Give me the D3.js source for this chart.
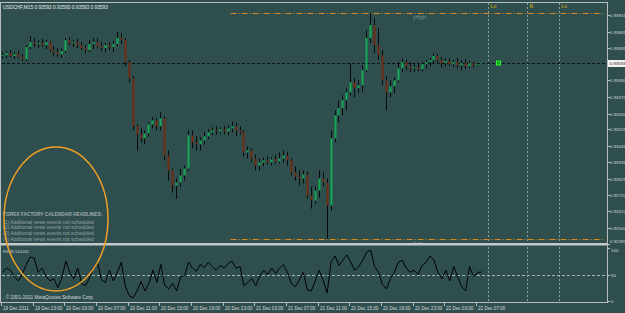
<!DOCTYPE html>
<html><head><meta charset="utf-8">
<script src="https://cdn.jsdelivr.net/npm/d3@7"></script>
<style>
html,body{margin:0;padding:0;background:#2f4f4f;overflow:hidden;}
svg{display:block;}
text{font-family:"Liberation Sans",Arial,sans-serif;}
</style></head><body>
<svg id="c" width="625" height="313"></svg>
<script>
const title = "USDCHF,M15  0.93593 0.93593 0.93593 0.93593";
const startTime = "2011-12-19T19:00:00Z";
const barMinutes = 30;
const opens = [0.93642,0.93648,0.93662,0.93642,0.93655,0.93635,0.93622,0.93702,0.93735,0.93722,
0.93728,0.93715,0.93735,0.93682,0.93668,0.93655,0.93675,0.93748,0.93728,0.93735,
0.93715,0.93695,0.93682,0.93722,0.93735,0.93708,0.93695,0.93715,0.93702,0.93722,
0.93762,0.93748,0.93602,0.93495,0.93175,0.93121,0.93095,0.93128,0.93188,0.93215,
0.93175,0.93228,0.92981,0.92881,0.92781,0.92801,0.92848,0.92894,0.93115,0.93068,
0.93055,0.93081,0.93108,0.93135,0.93148,0.93141,0.93155,0.93141,0.93161,0.93175,
0.93148,0.93135,0.93001,0.93015,0.92961,0.92914,0.92935,0.92948,0.92935,0.92955,
0.92941,0.92961,0.92981,0.92948,0.92868,0.92841,0.92828,0.92854,0.92714,0.92681,
0.92748,0.92828,0.92801,0.92648,0.93095,0.93248,0.93295,0.93348,0.93401,0.93468,
0.93428,0.93448,0.93548,0.93762,0.93848,0.93715,0.93648,0.93481,0.93401,0.93441,
0.93481,0.93561,0.93602,0.93575,0.93561,0.93568,0.93555,0.93588,0.93602,0.93615,
0.93642,0.93615,0.93595,0.93608,0.93588,0.93602,0.93581,0.93595,0.93575,0.93595,
0.93581,0.93588];
const highs = [0.93668,0.93675,0.93682,0.93668,0.93675,0.93655,0.93715,0.93775,0.93762,0.93748,
0.93755,0.93748,0.93742,0.93708,0.93695,0.93695,0.93762,0.93768,0.93748,0.93755,
0.93735,0.93715,0.93748,0.93762,0.93762,0.93735,0.93728,0.93735,0.93742,0.93802,
0.93795,0.93762,0.93615,0.93508,0.93188,0.93161,0.93148,0.93201,0.93235,0.93228,
0.93268,0.93241,0.93015,0.92894,0.92828,0.92894,0.92914,0.93148,0.93148,0.93108,
0.93101,0.93135,0.93155,0.93168,0.93175,0.93168,0.93175,0.93181,0.93208,0.93201,
0.93175,0.93148,0.93041,0.93028,0.92988,0.92961,0.92968,0.92975,0.92968,0.92981,
0.93001,0.93015,0.93001,0.92961,0.92908,0.92881,0.92881,0.92874,0.92774,0.92774,
0.92881,0.92868,0.92828,0.93148,0.93281,0.93348,0.93381,0.93428,0.93595,0.93495,
0.93481,0.93581,0.93815,0.93928,0.93895,0.93828,0.93682,0.93508,0.93481,0.93501,
0.93602,0.93628,0.93615,0.93602,0.93588,0.93595,0.93602,0.93615,0.93628,0.93662,
0.93655,0.93635,0.93628,0.93628,0.93615,0.93628,0.93615,0.93622,0.93608,0.93602,
0.93595,0.93595];
const lows = [0.93628,0.93628,0.93635,0.93622,0.93628,0.93608,0.93608,0.93688,0.93702,0.93695,
0.93702,0.93688,0.93668,0.93642,0.93635,0.93628,0.93662,0.93715,0.93702,0.93695,
0.93682,0.93662,0.93668,0.93688,0.93695,0.93675,0.93668,0.93682,0.93668,0.93708,
0.93722,0.93575,0.93468,0.93148,0.93015,0.93068,0.93055,0.93108,0.93161,0.93148,
0.93148,0.92948,0.92814,0.92734,0.92694,0.92774,0.92814,0.92881,0.93028,0.93015,
0.93015,0.93055,0.93088,0.93115,0.93121,0.93128,0.93121,0.93115,0.93135,0.93108,
0.93121,0.92975,0.92961,0.92935,0.92881,0.92881,0.92908,0.92921,0.92914,0.92928,
0.92928,0.92935,0.92914,0.92848,0.92814,0.92781,0.92794,0.92694,0.92628,0.92661,
0.92701,0.92774,0.92428,0.92614,0.93068,0.93201,0.93248,0.93281,0.93381,0.93368,
0.93395,0.93401,0.93535,0.93728,0.93662,0.93615,0.93448,0.93281,0.93368,0.93395,
0.93468,0.93535,0.93548,0.93535,0.93535,0.93541,0.93541,0.93561,0.93575,0.93595,
0.93588,0.93568,0.93575,0.93575,0.93568,0.93561,0.93548,0.93555,0.93561,0.93568,
0.93575,0.93581];
const closes = [0.93648,0.93662,0.93642,0.93655,0.93635,0.93622,0.93702,0.93735,0.93722,0.93728,
0.93715,0.93735,0.93682,0.93668,0.93655,0.93675,0.93748,0.93728,0.93735,0.93715,
0.93695,0.93682,0.93722,0.93735,0.93708,0.93695,0.93715,0.93702,0.93722,0.93762,
0.93748,0.93602,0.93495,0.93175,0.93121,0.93095,0.93128,0.93188,0.93215,0.93175,
0.93228,0.92981,0.92881,0.92781,0.92801,0.92848,0.92894,0.93115,0.93068,0.93055,
0.93081,0.93108,0.93135,0.93148,0.93141,0.93155,0.93141,0.93161,0.93175,0.93148,
0.93135,0.93001,0.93015,0.92961,0.92914,0.92935,0.92948,0.92935,0.92955,0.92941,
0.92961,0.92981,0.92948,0.92868,0.92841,0.92828,0.92854,0.92714,0.92681,0.92748,
0.92828,0.92801,0.92648,0.93095,0.93248,0.93295,0.93348,0.93401,0.93468,0.93428,
0.93448,0.93548,0.93762,0.93848,0.93715,0.93648,0.93481,0.93401,0.93441,0.93481,
0.93561,0.93602,0.93575,0.93561,0.93568,0.93555,0.93588,0.93602,0.93615,0.93642,
0.93615,0.93595,0.93608,0.93588,0.93602,0.93581,0.93595,0.93575,0.93595,0.93581,
0.93588,0.93593];
const rsiValues = [54,62,58,46,38,50,69,83,81,54, 62,46,38,42,25,44,75,54,42,62,
33,29,44,62,73,40,35,58,38,54, 73,29,10,6,19,37,19,33,58,35,
69,29,23,33,19,46,48,73,62,56, 69,63,73,65,58,67,62,71,75,62,
65,29,35,42,29,48,58,50,62,52, 62,69,54,33,27,40,54,21,19,37,
58,40,15,73,85,67,77,87,73,58, 65,77,92,96,65,54,31,23,42,54,
73,77,62,54,58,50,67,73,85,77, 54,42,58,38,65,46,27,19,65,46,
54,54.62];
const rsiLabel = "RSI(8) 54.6241";
const currentPrice = 0.93593;
const priceTicks = [0.93915,0.93805,0.93695,0.93480,0.93370,0.93260,0.93155,0.93045,0.92935,0.92825,0.92720,0.92610,0.92500,0.92390];
const rsiTicks = [100,50,0];
const timeTicks = ["2011-12-19T19:00:00Z","2011-12-19T23:00:00Z","2011-12-20T03:00:00Z","2011-12-20T07:00:00Z",
"2011-12-20T11:00:00Z","2011-12-20T15:00:00Z","2011-12-20T19:00:00Z","2011-12-20T23:00:00Z",
"2011-12-21T03:00:00Z","2011-12-21T07:00:00Z","2011-12-21T11:00:00Z","2011-12-21T15:00:00Z",
"2011-12-21T19:00:00Z","2011-12-21T23:00:00Z","2011-12-22T03:00:00Z","2011-12-22T07:00:00Z"];
const timeLabels = ["19 Dec 2011","19 Dec 23:00","20 Dec 03:00","20 Dec 07:00","20 Dec 11:00","20 Dec 15:00",
"20 Dec 19:00","20 Dec 23:00","21 Dec 03:00","21 Dec 07:00","21 Dec 11:00","21 Dec 15:00",
"21 Dec 19:00","21 Dec 23:00","22 Dec 03:00","22 Dec 07:00"];
const sessionTimes = ["2011-12-22T08:30:00Z","2011-12-22T13:30:00Z","2011-12-22T17:30:00Z"];
const sessionLabels = ["Lo","N","Lc"];
const levelStart = "2011-12-21T00:00:00Z";
const levelPrices = [0.93928, 0.92428];
const levelLabels = ["yHigh","yLow"];
const newsTitle = "FOREX FACTORY CALENDAR HEADLINES:";
const newsLines = ["(1)  Additional news events not scheduled","(2)  Additional news events not scheduled",
"(3)  Additional news events not scheduled","(4)  Additional news events not scheduled"];
const copyright = ", \u00a9 2001-2011 MetaQuotes Software Corp.";

const svg = d3.select("#c");
const BG = "#2f4f4f", FR = "#b9bfbf", TXT = "#d6dada";
const L = 1, R = 607, mainTop = 3, mainBot = 243, rsiTop = 248, rsiBot = 301, panelBot = 302;

const t0 = new Date(startTime);
const x = d3.scaleUtc().domain([t0, new Date(+t0 + 60*3600e3)]).range([1, 476]);
const y = d3.scaleLinear().domain([0.92399, 0.93995]).range([mainBot, mainTop]);
const yr = d3.scaleLinear().domain([0, 100]).range([rsiBot, rsiTop]);

svg.append("rect").attr("width",625).attr("height",313).attr("fill",BG);

const bars = closes.map((c,i)=>({t:new Date(+t0 + i*barMinutes*60000), o:opens[i], h:highs[i], l:lows[i], c:c}));

// session vertical lines
sessionTimes.forEach((s,i)=>{
  const xx = Math.round(x(new Date(s)))+0.5;
  svg.append("line").attr("x1",xx).attr("x2",xx).attr("y1",mainTop).attr("y2",panelBot)
    .attr("stroke","#8c9c9c").attr("stroke-width",1).attr("stroke-dasharray","2,2");
  svg.append("text").attr("x",xx+2).attr("y",7.5).attr("font-size",4.8).attr("font-weight","bold")
    .attr("fill","#b89a1c").text(sessionLabels[i]);
});

// level lines
levelPrices.forEach((p,i)=>{
  const yy = Math.round(y(p))+0.5;
  svg.append("line").attr("x1",x(new Date(levelStart))).attr("x2",603).attr("y1",yy).attr("y2",yy)
    .attr("stroke","#d98a24").attr("stroke-width",1).attr("stroke-dasharray","6,2,1,2");
  svg.append("text").attr("x",413).attr("y",i===0? yy+5 : yy+4.2).attr("font-size",i===0?5:4).attr("fill","#7e9494").text(levelLabels[i]);
});

// current price line
const yc = Math.round(y(currentPrice))+0.5;
svg.append("line").attr("x1",L+1).attr("x2",R).attr("y1",yc).attr("y2",yc)
  .attr("stroke","#0a1414").attr("stroke-width",1).attr("stroke-dasharray","3,2");

// candles
const g = svg.append("g");
bars.forEach(b=>{
  const X = Math.round(x(b.t));
  g.append("line").attr("x1",X+1.5).attr("x2",X+1.5).attr("y1",y(b.h)).attr("y2",y(b.l))
    .attr("stroke","#050a0a").attr("stroke-width",1);
  const top = Math.min(y(b.o),y(b.c)), hgt = Math.max(1, Math.abs(y(b.o)-y(b.c)));
  g.append("rect").attr("x",X+0.5).attr("y",top).attr("width",2).attr("height",hgt)
    .attr("fill", b.c>=b.o ? "#14a854" : "#6e2c12");
});
// marker after last bar
const last = bars[bars.length-1];
svg.append("rect").attr("x",Math.round(x(new Date(+last.t + 4*barMinutes*60000)))+0.5).attr("y",yc-2.5)
  .attr("width",4).attr("height",4).attr("fill","#1c9a2a").attr("stroke","#22ff22").attr("stroke-width",1);

// RSI panel
svg.append("line").attr("x1",L+1).attr("x2",R).attr("y1",Math.round(yr(50))+0.5).attr("y2",Math.round(yr(50))+0.5)
  .attr("stroke","#a8b4b4").attr("stroke-width",1).attr("stroke-dasharray","3,2");
svg.append("path").datum(bars.map((b,i)=>({t:b.t, v:rsiValues[i]})))
  .attr("d", d3.line().x(d=>x(d.t)+1.5).y(d=>yr(d.v)))
  .attr("fill","none").attr("stroke","#000").attr("stroke-width",1);

// frames
svg.append("line").attr("x1",0).attr("x2",R).attr("y1",2.5).attr("y2",2.5).attr("stroke",FR).attr("stroke-width",1);
svg.append("line").attr("x1",0.5).attr("x2",0.5).attr("y1",2).attr("y2",panelBot).attr("stroke",FR).attr("stroke-width",1);
svg.append("rect").attr("x",0).attr("y",243).attr("width",R+0.5).attr("height",2.5).attr("fill","#c4c8c8");
svg.append("line").attr("x1",0).attr("x2",R).attr("y1",panelBot+0.5).attr("y2",panelBot+0.5).attr("stroke",FR).attr("stroke-width",1);
svg.append("line").attr("x1",R+0.5).attr("x2",R+0.5).attr("y1",2).attr("y2",panelBot+1).attr("stroke",FR).attr("stroke-width",1);

// price axis
priceTicks.forEach(p=>{
  const yy = Math.round(y(p))+0.5;
  svg.append("line").attr("x1",R).attr("x2",R+3).attr("y1",yy).attr("y2",yy).attr("stroke",FR);
  svg.append("text").attr("x",610).attr("y",Math.min(yy,241.5)+1.6).attr("font-size",4.4).attr("fill",TXT).text(p.toFixed(5));
});
svg.append("rect").attr("x",R+1).attr("y",yc-3.5).attr("width",18).attr("height",7).attr("fill","#f4f4f4");
svg.append("text").attr("x",609.5).attr("y",yc+1.6).attr("font-size",4.4).attr("fill","#1a2a2a").text(currentPrice.toFixed(5));

// rsi axis
rsiTicks.forEach(v=>{
  const yy = Math.round(yr(v))+0.5;
  svg.append("line").attr("x1",R).attr("x2",R+3).attr("y1",yy).attr("y2",yy).attr("stroke",FR);
  svg.append("text").attr("x",611).attr("y",(v===100? yy+1.2 : yy)+1.8).attr("font-size",4.4).attr("fill",TXT).text(String(v));
});

// time axis
timeTicks.forEach((s,i)=>{
  const xx = Math.round(x(new Date(s)))+0.5;
  svg.append("line").attr("x1",xx).attr("x2",xx).attr("y1",panelBot).attr("y2",panelBot+4).attr("stroke",FR);
  svg.append("text").attr("x",xx+1.5).attr("y",310).attr("font-size",4.6).attr("fill",TXT).text(timeLabels[i]);
});

// texts
svg.append("text").attr("x",3).attr("y",9).attr("font-size",4.8).attr("fill","#e6eaea").text(title);
svg.append("text").attr("x",3).attr("y",216).attr("font-size",4.8).attr("font-weight","bold").attr("fill","#9fadad").text(newsTitle);
newsLines.forEach((s,i)=>{
  svg.append("text").attr("x",3).attr("y",223.5+i*5.8).attr("font-size",5).attr("fill","#93a3a3").text(s);
});
svg.append("text").attr("x",3).attr("y",252.5).attr("font-size",3.8).attr("fill",TXT).text(rsiLabel);
svg.append("text").attr("x",3).attr("y",299).attr("font-size",4.8).attr("fill",TXT).text(copyright);

// highlight ellipse
svg.append("ellipse").attr("cx",56).attr("cy",219).attr("rx",52).attr("ry",72)
  .attr("fill","none").attr("stroke","#f0a024").attr("stroke-width",1.5);
</script>
</body></html>
